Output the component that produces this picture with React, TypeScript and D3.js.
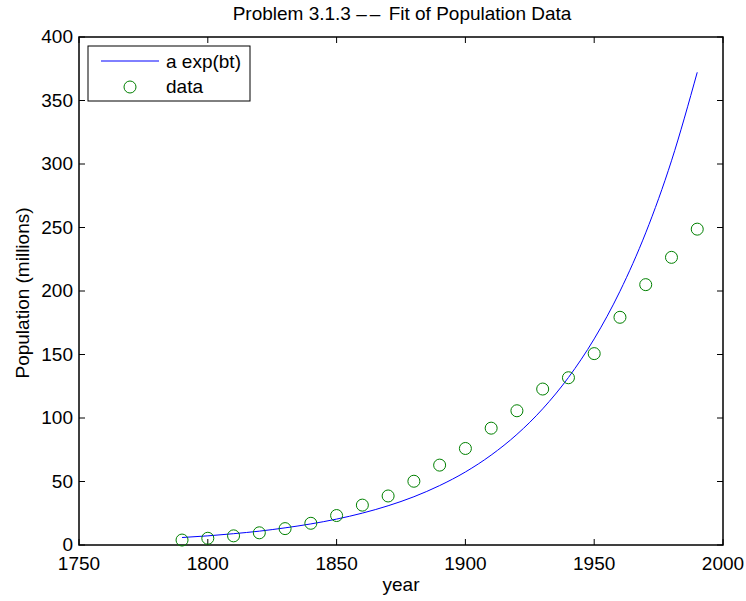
import React, {useRef, useEffect} from 'react';
import * as d3 from 'd3';

// census years and population (millions)
const years = [1790, 1800, 1810, 1820, 1830, 1840, 1850, 1860, 1870, 1880, 1890,
  1900, 1910, 1920, 1930, 1940, 1950, 1960, 1970, 1980, 1990];
const population = [3.9, 5.3, 7.2, 9.6, 12.9, 17.1, 23.2, 31.4, 38.6, 50.2, 62.9,
  76.0, 92.0, 105.7, 122.8, 131.7, 150.7, 179.3, 205.0, 226.5, 248.7];
// fitted curve a exp(bt), read at each decade
const fitValues = [5.9, 7.2, 8.9, 10.9, 13.5, 16.6, 20.4, 25.1, 30.9, 38.0, 46.8,
  57.5, 70.8, 87.1, 107.2, 131.9, 162.3, 199.8, 245.8, 302.5, 372.2];
const xTicks = [1750, 1800, 1850, 1900, 1950, 2000];
const yTicks = [0, 50, 100, 150, 200, 250, 300, 350, 400];

const font = 'Arial, "Liberation Sans", Helvetica, sans-serif';
const fs = 19;

export default function App() {
  const ref = useRef<SVGSVGElement | null>(null);

  useEffect(() => {
    if (!ref.current) return;
    const svg = d3.select(ref.current);
    svg.selectAll('*').remove();

    const margin = {top: 37, right: 23, bottom: 56, left: 79};
    const W = 746, H = 601;
    const w = W - margin.left - margin.right;
    const h = H - margin.top - margin.bottom;

    const x = d3.scaleLinear().domain([1750, 2000]).range([0, w]);
    const y = d3.scaleLinear().domain([0, 400]).range([h, 0]);

    svg.append('rect').attr('width', W).attr('height', H).attr('fill', '#fff');

    const g = svg.append('g')
      .attr('transform', 'translate(' + margin.left + ',' + margin.top + ')');

    const tick = 6;
    // x ticks bottom + top, inward
    xTicks.forEach(t => {
      g.append('line').attr('x1', x(t)).attr('x2', x(t))
        .attr('y1', h).attr('y2', h - tick).attr('stroke', '#000');
      g.append('line').attr('x1', x(t)).attr('x2', x(t))
        .attr('y1', 0).attr('y2', tick).attr('stroke', '#000');
      g.append('text').attr('x', x(t)).attr('y', h + 25)
        .attr('text-anchor', 'middle').attr('font-family', font)
        .attr('font-size', fs).text(t);
    });
    // y ticks left + right
    yTicks.forEach(t => {
      g.append('line').attr('x1', 0).attr('x2', tick)
        .attr('y1', y(t)).attr('y2', y(t)).attr('stroke', '#000');
      g.append('line').attr('x1', w).attr('x2', w - tick)
        .attr('y1', y(t)).attr('y2', y(t)).attr('stroke', '#000');
      g.append('text').attr('x', -6).attr('y', y(t) + 6)
        .attr('text-anchor', 'end').attr('font-family', font)
        .attr('font-size', fs).text(t);
    });

    g.append('rect').attr('width', w).attr('height', h)
      .attr('fill', 'none').attr('stroke', '#000').attr('stroke-width', 1.5);

    const line = d3.line<number>()
      .x((d, i) => x(years[i]))
      .y(d => y(d))
      .curve(d3.curveMonotoneX);

    g.append('path').datum(fitValues).attr('d', line)
      .attr('fill', 'none').attr('stroke', '#0000ff').attr('stroke-width', 1);

    g.selectAll('.dot').data(population).enter().append('circle')
      .attr('cx', (d, i) => x(years[i])).attr('cy', d => y(d)).attr('r', 6)
      .attr('fill', 'none').attr('stroke', '#008000').attr('stroke-width', 1);

    // legend
    const lg = svg.append('g').attr('transform', 'translate(88,46)');
    lg.append('rect').attr('width', 162).attr('height', 55)
      .attr('fill', '#fff').attr('stroke', '#000').attr('stroke-width', 1);
    lg.append('line').attr('x1', 13).attr('x2', 71).attr('y1', 15).attr('y2', 15)
      .attr('stroke', '#0000ff');
    lg.append('text').attr('x', 78).attr('y', 22).attr('font-family', font)
      .attr('font-size', fs).text('a exp(bt)');
    lg.append('circle').attr('cx', 42).attr('cy', 41).attr('r', 6)
      .attr('fill', 'none').attr('stroke', '#008000');
    lg.append('text').attr('x', 78).attr('y', 47).attr('font-family', font)
      .attr('font-size', fs).text('data');

    const tt = svg.append('text').attr('x', margin.left + w / 2 + 1).attr('y', 20)
      .attr('text-anchor', 'middle').attr('font-family', font)
      .attr('font-size', fs);
    tt.append('tspan').text('Problem 3.1.3 ');
    tt.append('tspan').attr('letter-spacing', 3).text('\u2013\u2013');
    tt.append('tspan').text(' Fit of Population Data');

    svg.append('text').attr('x', margin.left + w / 2).attr('y', 591)
      .attr('text-anchor', 'middle').attr('font-family', font)
      .attr('font-size', fs).text('year');
    svg.append('text')
      .attr('transform', 'translate(29,' + (margin.top + h / 2 + 2) + ') rotate(-90)')
      .attr('text-anchor', 'middle').attr('font-family', font)
      .attr('font-size', fs).text('Population (millions)');
  }, []);

  return (
    <svg ref={ref} width={746} height={601}
      style={{position: 'absolute', left: 0, top: 0}} />
  );
}
